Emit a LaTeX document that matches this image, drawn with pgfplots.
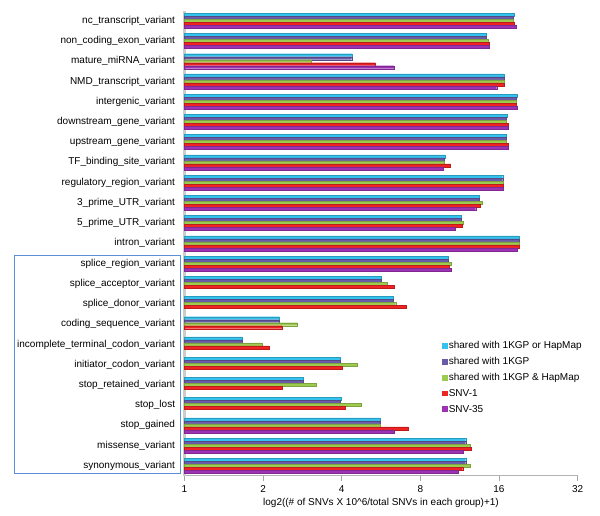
\documentclass[border=0pt]{standalone}
\usepackage{pgfplots}
\pgfplotsset{compat=1.18}
\usepackage{pgfplotstable}
\usepackage{fontspec}
\setmainfont{Liberation Sans}

\definecolor{cA}{HTML}{33C3EE}
\definecolor{cB}{HTML}{6A5BA8}
\definecolor{cC}{HTML}{9CCB4F}
\definecolor{cD}{HTML}{EE2322}
\definecolor{cE}{HTML}{9E32B5}
\definecolor{boxblue}{HTML}{5B8FD8}

\pgfplotstableread{
idx cyan blue green red purple
0 18.31 18.15 18.15 18.31 18.59
1 14.35 14.27 14.56 14.65 14.65
2 4.39 4.37 3.07 5.38 6.34
3 16.72 16.72 16.72 16.75 15.68
4 18.8 18.7 18.7 18.7 18.85
5 17.22 17.12 17.12 17.37 17.37
6 17.12 17.0 17.0 17.37 17.37
7 9.94 9.88 9.85 10.45 9.80
8 16.53 16.53 16.62 16.62 16.62
9 13.42 13.42 13.78 13.57 13.03
10 11.45 11.45 11.69 11.55 10.86
11 19.08 19.08 19.08 19.08 18.8
12 10.21 10.21 10.54 10.33 10.54
13 5.67 5.67 5.98 6.34 nan
14 6.30 6.30 6.44 7.09 nan
15 2.31 2.31 2.71 2.36 nan
16 1.67 1.67 1.99 2.11 nan
17 3.94 3.94 4.60 4.01 nan
18 2.84 2.84 3.20 2.36 nan
19 3.97 3.94 4.77 4.14 nan
20 5.61 5.61 5.61 7.19 6.34
21 11.93 11.93 12.46 12.54 11.69
22 11.93 11.93 12.39 11.62 11.18
}\datatable

\begin{document}
\begin{tikzpicture}
\begin{axis}[
  name=ax,
  scale only axis,
  width=294.9pt, height=349.0pt,
  xbar=0pt, bar width=2.25pt,
  xmode=log, log basis x=2, log origin=infty,
  xmin=1, xmax=32,
  xtick={1,2,4,8,16,32},
  xticklabels={1,2,4,8,16,32},
  ymin=-0.5, ymax=22.5,
  y dir=reverse,
  ytick={0,...,22},
  yticklabels={nc\_transcript\_variant, non\_coding\_exon\_variant, mature\_miRNA\_variant, NMD\_transcript\_variant, intergenic\_variant, downstream\_gene\_variant, upstream\_gene\_variant, TF\_binding\_site\_variant, regulatory\_region\_variant, 3\_prime\_UTR\_variant, 5\_prime\_UTR\_variant, intron\_variant, splice\_region\_variant, splice\_acceptor\_variant, splice\_donor\_variant, coding\_sequence\_variant, incomplete\_terminal\_codon\_variant, initiator\_codon\_variant, stop\_retained\_variant, stop\_lost, stop\_gained, missense\_variant, synonymous\_variant},
  axis x line*=bottom, axis y line*=left,
  x axis line style={draw=gray!60, line width=0.8pt, -},
  y axis line style={draw=gray!40, line width=1.8pt, -},
  ytick style={draw=none},
  xtick style={draw=gray!70, line width=0.6pt},
  tick align=outside, major tick length=3.5pt,
  minor x tick num=0,
  ticklabel style={font=\fontsize{7.5}{9}\selectfont, text=black},
  yticklabel style={xshift=0pt},
  xlabel={log2((\# of SNVs X 10\textasciicircum 6/total SNVs in each group)+1)},
  xlabel style={font=\fontsize{7.5}{9}\selectfont, yshift=2.5pt},
  clip=false,
  legend cell align=left,
  legend image code/.code={\fill[#1,draw=none] (0pt,-2.2pt) rectangle (4.4pt,2.2pt);},
  legend style={draw=none, fill=none, at={(0.645,0.298)}, anchor=north west,
    font=\fontsize{7.5}{9}\selectfont, row sep=3.4pt,
    nodes={inner sep=0.5pt, text height=6pt, text depth=1.5pt}},
]
\addplot[bar shift=4.5pt, fill=cA, draw=cA!80!black, line width=0.25pt] table[x=cyan, y=idx] {\datatable};
\addplot[bar shift=2.25pt, fill=cB, draw=cB!80!black, line width=0.25pt] table[x=blue, y=idx] {\datatable};
\addplot[bar shift=0pt, fill=cC, draw=cC!80!black, line width=0.25pt] table[x=green, y=idx] {\datatable};
\addplot[bar shift=-2.25pt, fill=cD, draw=cD!80!black, line width=0.25pt] table[x=red, y=idx] {\datatable};
\addplot[bar shift=-4.5pt, fill=cE, draw=cE!80!black, line width=0.25pt] table[x=purple, y=idx] {\datatable};
\legend{shared with 1KGP or HapMap, shared with 1KGP, shared with 1KGP \& HapMap, SNV-1, SNV-35}
\draw[boxblue, line width=0.8pt] ({rel axis cs:-0.433,0}|-{axis cs:1,11.62}) rectangle ({rel axis cs:-0.011,0}|-{axis cs:1,22.36});
\end{axis}
\pgfresetboundingbox
\useasboundingbox (ax.south west) ++(-138.3pt,-29.3pt) rectangle ++(450pt,386.25pt);
\end{tikzpicture}
\end{document}
